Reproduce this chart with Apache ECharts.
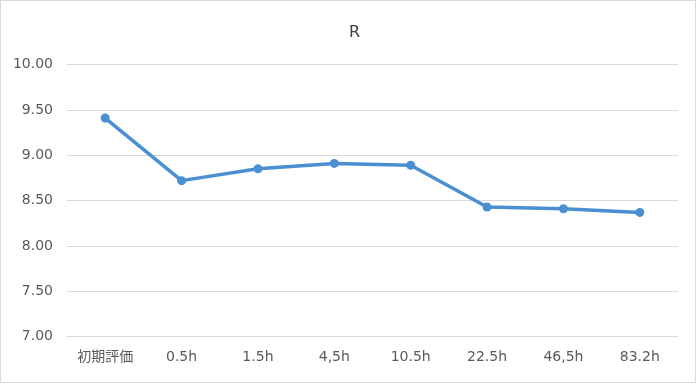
<!DOCTYPE html>
<html><head><meta charset="utf-8">
<script src="https://cdn.jsdelivr.net/npm/echarts@6/dist/echarts.min.js"></script>
<style>
html,body{margin:0;padding:0;background:#fff;}
#wrap{position:absolute;left:0;top:0;width:696px;height:383px;border:1px solid #d9d9d9;box-sizing:border-box;}
#c{position:absolute;left:0;top:0;width:700px;height:384px;}
</style></head>
<body><div id="wrap"></div><div id="c"></div>
<script>
const categories = ['初期評価','0.5h','1.5h','4,5h','10.5h','22.5h','46,5h','83.2h'];
const values = [9.41, 8.72, 8.85, 8.91, 8.89, 8.43, 8.41, 8.37];
const yMin = 7, yMax = 10, yStep = 0.5;
const titleText = 'R';

const chart = echarts.init(document.getElementById('c'), null, {renderer:'canvas'});
const font = '"DejaVu Sans", "Noto Sans CJK JP", sans-serif';
chart.setOption({
  animation:false,
  title:{text:titleText,left:349.5,top:20,textAlign:'center',textStyle:{fontFamily:font,fontSize:16,fontWeight:'normal',color:'#404040'}},
  grid:{left:67,right:22,top:64.5,bottom:47.3,containLabel:false},
  xAxis:{type:'category',data:categories,boundaryGap:true,
    axisLine:{show:true,lineStyle:{color:'#d9d9d9',width:1}},
    axisTick:{show:false},
    axisLabel:{fontFamily:font,fontSize:14,color:'#595959',margin:14}},
  yAxis:{type:'value',min:yMin,max:yMax,interval:yStep,
    axisLine:{show:false},axisTick:{show:false},
    splitLine:{lineStyle:{color:'#d9d9d9',width:1}},
    axisLabel:{fontFamily:font,fontSize:14,color:'#595959',margin:14,formatter:v=>v.toFixed(2)}},
  series:[{type:'line',data:values,symbol:'circle',symbolSize:9,
    lineStyle:{color:'#4a8fd2',width:3.5},itemStyle:{color:'#4a8fd2'}}]
});
</script></body></html>
